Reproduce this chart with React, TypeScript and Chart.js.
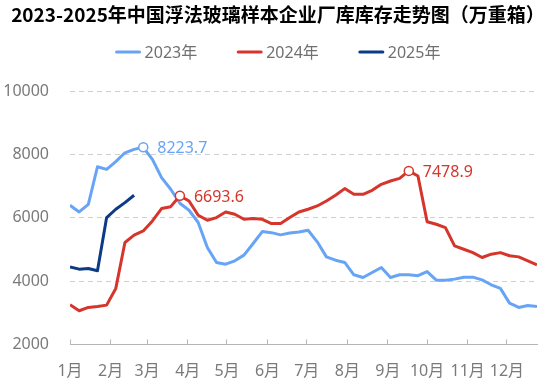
import React, { useEffect, useRef } from "react";
import { Chart, registerables } from "chart.js";

Chart.register(...registerables);

const FONT = '"Noto Sans", "Noto Sans CJK SC", sans-serif';
Chart.defaults.font.family = FONT;

const titleText = "2023-2025年中国浮法玻璃样本企业厂库库存走势图（万重箱）";

const monthLabels = ["1月", "2月", "3月", "4月", "5月", "6月", "7月", "8月", "9月", "10月", "11月", "12月"];
const monthStartDays = [0, 31, 59, 90, 120, 151, 181, 212, 243, 273, 304, 334];
const DAYS_PER_WEEK = 7;
const xMaxDay = 357;

const yTicks = [2000, 4000, 6000, 8000, 10000];

const seriesNames = ["2023年", "2024年", "2025年"];
const seriesColors = ["#68a4f6", "#d5352b", "#0d3a85"];

const values2023 = [
  6393, 6183, 6425, 7610, 7527, 7770, 8050, 8157, 8223.7, 7840,
  7265, 6900, 6457, 6236, 5850, 5060, 4590, 4535, 4640, 4820,
  5186, 5564, 5530, 5460, 5520, 5553, 5606, 5240, 4766, 4660,
  4590, 4200, 4115, 4272, 4430, 4115, 4200, 4200, 4170, 4300,
  4031, 4031, 4063, 4125, 4125, 4040, 3884, 3770, 3306, 3170,
  3233, 3200,
];
const values2024 = [
  3254, 3065, 3170, 3200, 3243, 3770, 5218, 5450, 5585, 5900,
  6290, 6350, 6693.6, 6530, 6080, 5920, 6005, 6183, 6110, 5952,
  5974, 5952, 5816, 5816, 6005, 6183, 6268, 6372, 6530, 6709,
  6920, 6740, 6740, 6866, 7055, 7160, 7244, 7478.9, 7318, 5875,
  5795, 5690, 5112, 5007, 4900, 4745, 4850, 4900, 4800, 4765,
  4640, 4514,
];
const values2025 = [4451, 4378, 4399, 4325, 6005, 6268, 6478, 6710];

const seriesValues = [values2023, values2024, values2025];

// week indices of the annotated points in each series
const marked2023 = [8];
const marked2024 = [12, 37];
const marked2025: number[] = [];
const seriesMarked = [marked2023, marked2024, marked2025];

const headerPlugin = {
  id: "header",
  afterDraw(chart: any) {
    const ctx = chart.ctx as CanvasRenderingContext2D;
    ctx.save();
    // title
    ctx.font = `bold 19px "Noto Sans CJK SC", sans-serif`;
    ctx.fillStyle = "#000";
    ctx.textAlign = "center";
    ctx.textBaseline = "middle";
    ctx.fillText(titleText, 278, 15);
    // legend
    ctx.font = `16px ${FONT}`;
    const swatch = 25;
    const textGap = 4;
    const itemGap = 40;
    const widths = seriesNames.map((n) => swatch + textGap + ctx.measureText(n).width);
    const total = widths.reduce((a, b) => a + b, 0) + itemGap * (seriesNames.length - 1);
    let x = 278 - total / 2;
    const y = 52;
    seriesNames.forEach((name, i) => {
      ctx.strokeStyle = seriesColors[i];
      ctx.lineWidth = 3;
      ctx.lineCap = "round";
      ctx.beginPath();
      ctx.moveTo(x + 1, y);
      ctx.lineTo(x + swatch - 1, y);
      ctx.stroke();
      ctx.fillStyle = "#707070";
      ctx.textAlign = "left";
      ctx.textBaseline = "middle";
      ctx.fillText(name, x + swatch + textGap, y + 1);
      x += widths[i] + itemGap;
    });
    ctx.restore();
  },
};

const markLabelPlugin = {
  id: "markLabels",
  afterDatasetsDraw(chart: any) {
    const ctx = chart.ctx as CanvasRenderingContext2D;
    ctx.save();
    ctx.font = `16px ${FONT}`;
    ctx.textAlign = "left";
    ctx.textBaseline = "middle";
    seriesValues.forEach((vals, k) => {
      const meta = chart.getDatasetMeta(k);
      seriesMarked[k].forEach((idx) => {
        const pt = meta.data[idx];
        if (!pt) return;
        ctx.fillStyle = seriesColors[k];
        ctx.fillText(vals[idx].toFixed(1), pt.x + 14, pt.y + 1.5);
      });
    });
    ctx.restore();
  },
};

export default function App() {
  const ref = useRef<HTMLCanvasElement>(null);
  useEffect(() => {
    document.body.style.margin = "0";
    const canvas = ref.current!;
    const datasets = seriesValues.map((vals, k) => ({
      label: seriesNames[k],
      data: vals.map((v, i) => ({ x: i * DAYS_PER_WEEK, y: v })),
      borderColor: seriesColors[k],
      backgroundColor: seriesColors[k],
      borderWidth: 3,
      borderJoinStyle: "round" as const,
      tension: 0,
      fill: false,
      order: 3 - k,
      pointRadius: (c: any) => (seriesMarked[k].includes(c.dataIndex) ? 4.5 : 0),
      pointHoverRadius: 0,
      pointBackgroundColor: "#ffffff",
      pointBorderColor: seriesColors[k],
      pointBorderWidth: 1.5,
    }));
    const chart = new Chart(canvas, {
      type: "line",
      data: { datasets },
      options: {
        responsive: false,
        animation: false,
        devicePixelRatio: 1,
        layout: { padding: { left: 0, right: 17, top: 91, bottom: 0 } },
        plugins: {
          legend: { display: false },
          tooltip: { enabled: false },
          title: { display: false },
        },
        scales: {
          x: {
            type: "linear",
            min: 0,
            max: xMaxDay,
            afterBuildTicks: (axis: any) => {
              axis.ticks = monthStartDays.map((d) => ({ value: d }));
            },
            afterFit: (scale: any) => {
              scale.height = 44.5;
            },
            ticks: {
              autoSkip: false,
              maxRotation: 0,
              minRotation: 0,
              padding: 22.4,
              color: "#7a7a7a",
              font: { size: 16 },
              callback: (value: any) => monthLabels[monthStartDays.indexOf(Number(value))] ?? "",
            },
            grid: {
              drawOnChartArea: false,
              drawTicks: true,
              tickLength: -5,
              tickColor: "#b5b5b5",
              tickWidth: 1,
            },
            border: { display: true, color: "#b5b5b5", width: 1 },
          },
          y: {
            type: "linear",
            min: 2000,
            max: 10000,
            afterBuildTicks: (axis: any) => {
              axis.ticks = yTicks.map((v) => ({ value: v }));
            },
            afterFit: (scale: any) => {
              scale.width = 70;
            },
            ticks: {
              padding: 21,
              color: "#7a7a7a",
              font: { size: 16 },
              callback: (value: any) => String(value),
            },
            grid: {
              drawTicks: false,
              color: (c: any) => (c.tick && c.tick.value === 2000 ? "rgba(0,0,0,0)" : "#cfcfcf"),
              lineWidth: 1,
            },
            border: { display: false, dash: [5, 4] },
          },
        },
      },
      plugins: [headerPlugin, markLabelPlugin],
    } as any);
    return () => chart.destroy();
  }, []);
  return (
    <div style={{ width: 554, height: 389 }}>
      <canvas ref={ref} width={554} height={389} style={{ display: "block", width: 554, height: 389 }} />
    </div>
  );
}
